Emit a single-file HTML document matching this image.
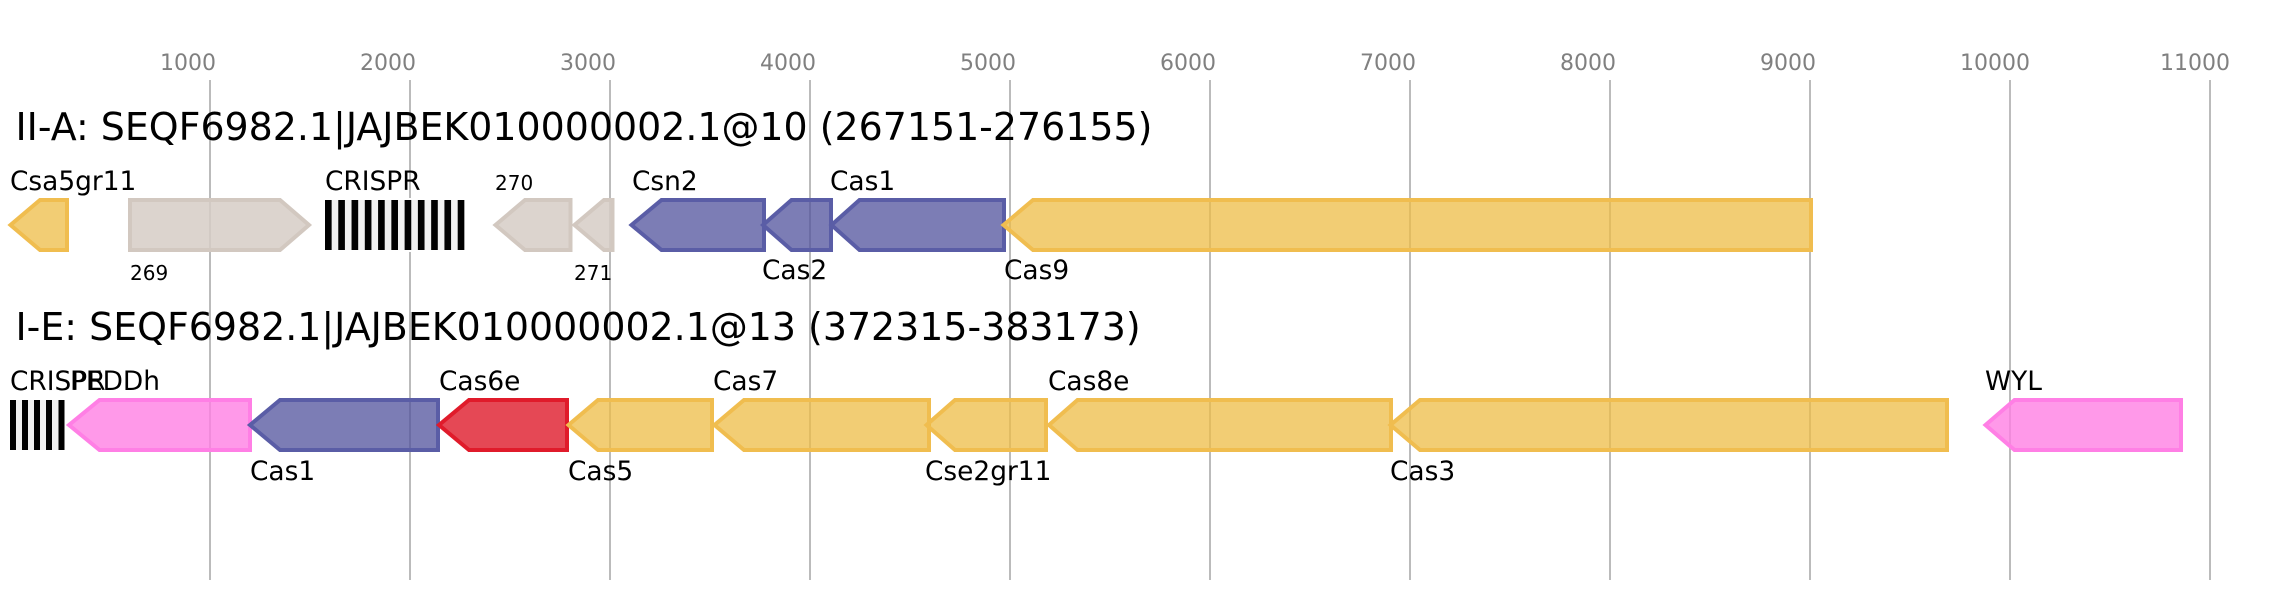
<!DOCTYPE html>
<html><head><meta charset="utf-8"><style>
html,body{margin:0;padding:0;background:#fff}
svg{display:block}
text{font-family:"DejaVu Sans",sans-serif;fill:#000}
.t{font-size:22px;fill:#808080}
.h{font-size:37.92px}
.l{font-size:26.4px}
.s{font-size:20px}
.grid line{stroke:#bbb;stroke-width:2}
.g{stroke-width:4}
.o{fill:#edbc46;fill-opacity:.75;stroke:#f0bd4f}
.b{fill:#50529c;fill-opacity:.75;stroke:#5a5da6}
.n{fill:#d6ccc6;fill-opacity:.85;stroke:#d2c8c0}
.p{fill:#ff80e4;fill-opacity:.8;stroke:#ff7fe5}
.r{fill:#df1a2b;fill-opacity:.8;stroke:#e01b2b}
</style></head><body>
<svg xmlns="http://www.w3.org/2000/svg" width="2272" height="600" viewBox="0 0 2272 600">
<rect width="2272" height="600" fill="#fff"/>
<g class="grid">
<line x1="210" y1="80" x2="210" y2="580"/><line x1="410" y1="80" x2="410" y2="580"/><line x1="610" y1="80" x2="610" y2="580"/><line x1="810" y1="80" x2="810" y2="580"/><line x1="1010" y1="80" x2="1010" y2="580"/><line x1="1210" y1="80" x2="1210" y2="580"/><line x1="1410" y1="80" x2="1410" y2="580"/><line x1="1610" y1="80" x2="1610" y2="580"/><line x1="1810" y1="80" x2="1810" y2="580"/><line x1="2010" y1="80" x2="2010" y2="580"/><line x1="2210" y1="80" x2="2210" y2="580"/>
</g>
<g class="t">
<text class="t" x="160" y="70">1000</text><text class="t" x="360" y="70">2000</text><text class="t" x="560" y="70">3000</text><text class="t" x="760" y="70">4000</text><text class="t" x="960" y="70">5000</text><text class="t" x="1160" y="70">6000</text><text class="t" x="1360" y="70">7000</text><text class="t" x="1560" y="70">8000</text><text class="t" x="1760" y="70">9000</text><text class="t" x="1960" y="70">10000</text><text class="t" x="2160" y="70">11000</text>
</g>
<text class="h" x="15.5" y="140">II-A: SEQF6982.1|JAJBEK010000002.1@10 (267151-276155)</text>
<text class="h" x="15.5" y="340">I-E: SEQF6982.1|JAJBEK010000002.1@13 (372315-383173)</text>

<!-- row 1 -->
<polygon class="g o" points="67,200 40,200 10.5,225 40,250 67,250"/>
<polygon class="g n" points="130,200 280,200 309,225 280,250 130,250"/>
<rect x="325" y="198" width="139.3" height="54" fill="#fff"/>
<rect x="325" y="200" width="139.3" height="50" fill="#f0f0f0"/>
<g fill="#000">
<rect x="325" y="200" width="6.64" height="50"/><rect x="338.27" y="200" width="6.64" height="50"/><rect x="351.54" y="200" width="6.64" height="50"/><rect x="364.81" y="200" width="6.64" height="50"/><rect x="378.08" y="200" width="6.64" height="50"/><rect x="391.35" y="200" width="6.64" height="50"/><rect x="404.62" y="200" width="6.64" height="50"/><rect x="417.89" y="200" width="6.64" height="50"/><rect x="431.16" y="200" width="6.64" height="50"/><rect x="444.43" y="200" width="6.64" height="50"/><rect x="457.7" y="200" width="6.64" height="50"/>
</g>
<polygon class="g n" points="570.5,200 525,200 495.5,225 525,250 570.5,250"/>
<polygon class="g n" points="612.5,200 604,200 574.5,225 604,250 612.5,250"/>
<polygon class="g b" points="764,200 661.5,200 631.5,225 661.5,250 764,250"/>
<polygon class="g b" points="831,200 791.5,200 763,225 791.5,250 831,250"/>
<polygon class="g b" points="1004,200 859.5,200 831.5,225 859.5,250 1004,250"/>
<polygon class="g o" points="1811,200 1033,200 1003.5,225 1033,250 1811,250"/>
<text class="l" x="10" y="190">Csa5gr11</text>
<text class="s" x="130" y="280">269</text>
<text class="l" x="325" y="190">CRISPR</text>
<text class="s" x="495" y="190">270</text>
<text class="s" x="574" y="280">271</text>
<text class="l" x="632" y="190">Csn2</text>
<text class="l" x="762" y="279">Cas2</text>
<text class="l" x="830" y="190">Cas1</text>
<text class="l" x="1004" y="279">Cas9</text>

<!-- row 2 -->
<rect x="10" y="400" width="54.5" height="50" fill="#f0f0f0"/>
<g fill="#000">
<rect x="10" y="400" width="6" height="50"/><rect x="22" y="400" width="6" height="50"/><rect x="34" y="400" width="6" height="50"/><rect x="46" y="400" width="6" height="50"/><rect x="58.5" y="400" width="6" height="50"/>
</g>
<polygon class="g p" points="250,400 99.5,400 69,425 99.5,450 250,450"/>
<polygon class="g b" points="438,400 280,400 250,425 280,450 438,450"/>
<polygon class="g r" points="567,400 469,400 439,425 469,450 567,450"/>
<polygon class="g o" points="712,400 598,400 568.5,425 598,450 712,450"/>
<polygon class="g o" points="929,400 744,400 714.5,425 744,450 929,450"/>
<polygon class="g o" points="1046,400 955,400 926.5,425 955,450 1046,450"/>
<polygon class="g o" points="1391,400 1077.5,400 1049,425 1077.5,450 1391,450"/>
<polygon class="g o" points="1947,400 1420,400 1390.5,425 1420,450 1947,450"/>
<polygon class="g p" points="2181,400 2014.5,400 1985.5,425 2014.5,450 2181,450"/>
<text class="l" x="10" y="390">CRISPR</text>
<text class="l" x="70" y="390">PEDDh</text>
<text class="l" x="250" y="480">Cas1</text>
<text class="l" x="439" y="390">Cas6e</text>
<text class="l" x="568" y="480">Cas5</text>
<text class="l" x="713" y="390">Cas7</text>
<text class="l" x="925" y="480">Cse2gr11</text>
<text class="l" x="1048" y="390">Cas8e</text>
<text class="l" x="1390" y="480">Cas3</text>
<text class="l" x="1985" y="390">WYL</text>
</svg>
</body></html>
